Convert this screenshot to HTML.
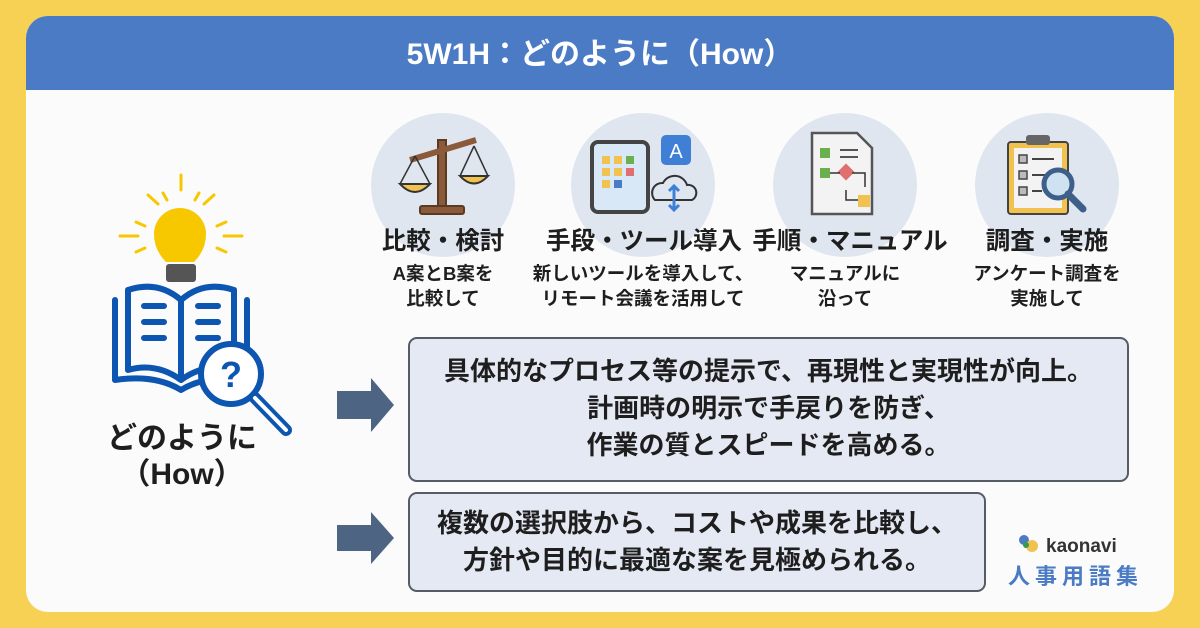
<!DOCTYPE html>
<html><head><meta charset="utf-8"><style>
*{margin:0;padding:0;box-sizing:border-box}
body{width:1200px;height:628px;background:#f7d154;position:relative;overflow:hidden;font-family:"Liberation Sans","Noto Sans CJK JP",sans-serif;color:#1e1e1e}
.card{position:absolute;left:26px;top:16px;width:1148px;height:596px;background:#fbfbfc;border-radius:22px;overflow:hidden}
.hdr{position:absolute;left:0;top:0;width:100%;height:74px;background:#4a7bc4;color:#fff;font-weight:bold;font-size:30px;text-align:center;line-height:78px}
.circ{position:absolute;width:144px;height:144px;border-radius:50%;background:#dfe6f0}
.t{position:absolute;text-align:center;font-weight:bold;white-space:nowrap}
.h{font-size:24.5px}
.s{font-size:18.5px;line-height:25px}
.box{position:absolute;background:#e4e9f3;border:2px solid #555c66;border-radius:9px;text-align:center;font-weight:bold;font-size:26px}
</style></head><body>
<div class="card">
<div class="hdr">5W1H：どのように（How）</div>
</div>
<div class="circ" style="left:371px;top:113px"></div>
<div class="circ" style="left:571px;top:113px"></div>
<div class="circ" style="left:773px;top:113px"></div>
<div class="circ" style="left:975px;top:113px"></div>
<svg width="1200" height="628" style="position:absolute;left:0;top:0">
<g fill="#8a5a3a" stroke="#5a3a22" stroke-width="2">
<rect x="438" y="140" width="8" height="66"/>
<line x1="410" y1="160" x2="476" y2="140" stroke-width="6" stroke="#8a5a3a"/>
<rect x="420" y="206" width="44" height="8" rx="2"/>
</g>
<path d="M400 184 q15 16 30 0z M460 176 q14 15 28 0z" fill="#f1c24f" stroke="#333" stroke-width="2"/>
<path d="M415 156 L400 184 M415 156 L430 184 M474 146 L460 176 M474 146 L488 176" stroke="#333" stroke-width="1.5" fill="none"/>
<rect x="592" y="142" width="56" height="70" rx="6" fill="#d8e8f6" stroke="#444" stroke-width="4"/>
<g fill="#f1c24f"><rect x="602" y="156" width="8" height="8"/><rect x="614" y="156" width="8" height="8" /><rect x="602" y="168" width="8" height="8"/><rect x="614" y="168" width="8" height="8"/><rect x="602" y="180" width="8" height="8"/></g>
<rect x="626" y="156" width="8" height="8" fill="#6ab04c"/><rect x="626" y="168" width="8" height="8" fill="#e07070"/><rect x="614" y="180" width="8" height="8" fill="#4a7bc4"/>
<rect x="661" y="135" width="30" height="30" rx="5" fill="#3f7fd6"/>
<text x="676" y="158" fill="#fff" font-size="20" text-anchor="middle">A</text>
<path d="M655 200 a10 10 0 0 1 8 -17 a13 13 0 0 1 24 2 a8 8 0 0 1 5 15 z" fill="none" stroke="#333" stroke-width="2"/>
<path d="M674 186 v24 M669 191 l5 -5 l5 5 M669 205 l5 5 l5 -5" stroke="#3f7fd6" stroke-width="3" fill="none"/>
<path d="M812 133 h45 l15 15 v66 h-60z" fill="#f3f3f3" stroke="#555" stroke-width="2.5"/>
<rect x="820" y="148" width="10" height="10" fill="#6ab04c"/><path d="M840 150h18 M840 157h18" stroke="#555" stroke-width="2"/>
<rect x="820" y="168" width="10" height="10" fill="#6ab04c"/><rect x="840" y="166" width="12" height="12" fill="#e07070" transform="rotate(45 846 172)"/>
<rect x="858" y="195" width="12" height="12" fill="#f1c24f"/>
<path d="M830 173h10 M852 173h13v14 M858 200h-12v-10" stroke="#333" stroke-width="1.5" fill="none"/>
<rect x="1008" y="142" width="60" height="72" rx="3" fill="#f1c24f" stroke="#444" stroke-width="2"/>
<rect x="1014" y="148" width="48" height="60" fill="#f3f3f3"/>
<rect x="1026" y="135" width="24" height="10" rx="3" fill="#666"/>
<g fill="#bbb" stroke="#444" stroke-width="1.5"><rect x="1019" y="155" width="8" height="8"/><rect x="1019" y="171" width="8" height="8"/><rect x="1019" y="187" width="8" height="8"/></g>
<path d="M1032 159h22 M1032 175h14 M1032 191h10" stroke="#444" stroke-width="2"/>
<circle cx="1058" cy="184" r="14" fill="#cfe2f2" stroke="#3e5f8a" stroke-width="5"/>
<line x1="1068" y1="194" x2="1083" y2="209" stroke="#3e5f8a" stroke-width="7" stroke-linecap="round"/>
<g stroke="#f7c800" stroke-width="3" stroke-linecap="round">
<line x1="181" y1="175" x2="181" y2="190"/><line x1="148" y1="195" x2="158" y2="204"/><line x1="214" y1="195" x2="204" y2="204"/>
<line x1="120" y1="236" x2="138" y2="236"/><line x1="224" y1="236" x2="242" y2="236"/><line x1="136" y1="222" x2="145" y2="226"/><line x1="226" y1="222" x2="217" y2="226"/>
<line x1="163" y1="193" x2="167" y2="200"/><line x1="199" y1="193" x2="195" y2="200"/><line x1="136" y1="252" x2="145" y2="248"/><line x1="226" y1="252" x2="217" y2="248"/>
</g>
<path d="M166 262 q-12 -12 -12 -28 a26 26 0 0 1 52 0 q0 16 -12 28z" fill="#f7c800"/>
<rect x="166" y="264" width="30" height="18" rx="3" fill="#555"/>
<g fill="none" stroke="#0c55b0" stroke-width="6" stroke-linejoin="round" stroke-linecap="round">
<path d="M115 300 v80 q40 -6 66 10 q26 -16 66 -10 v-80"/>
<path d="M128 290 q30 -10 53 10 v80 q-25 -18 -53 -10z"/>
<path d="M234 290 q-30 -10 -53 10 v80 q25 -18 53 -10z"/>
<path d="M144 306h20 M144 322h20 M144 338h20 M198 306h20 M198 322h20 M198 338h20"/>
</g>
<circle cx="231" cy="374" r="30" fill="#fff" stroke="#0c55b0" stroke-width="6"/>
<text x="231" y="387" text-anchor="middle" font-size="36" font-weight="bold" fill="#0c55b0" font-family="Liberation Sans">?</text>
<line x1="255" y1="398" x2="286" y2="430" stroke="#0c55b0" stroke-width="12" stroke-linecap="round"/>
<line x1="255" y1="398" x2="286" y2="430" stroke="#fff" stroke-width="4" stroke-linecap="round"/>
<path d="M337 391h34v-13l23 27-23 27v-13h-34z" fill="#4d6483"/>
<path d="M337 525h34v-13l23 26-23 26v-13h-34z" fill="#4d6483"/>
<circle cx="1024" cy="540" r="5" fill="#4a7bc4"/><circle cx="1032" cy="546" r="6" fill="#f1c24f"/><circle cx="1026" cy="545" r="3" fill="#3a9a4a"/>
<text x="1046" y="552" font-size="19" font-weight="bold" fill="#333" font-family="Liberation Sans">kaonavi</text>
<text x="1008" y="584" font-size="22" font-weight="bold" fill="#4a7bc4" letter-spacing="5" font-family="Noto Sans CJK JP">人事用語集</text>
</svg>
<div class="t" style="top:421px;font-size:30px;line-height:36px;left:70px;width:224px">どのように<br>（How）</div>
<div class="t h" style="left:343px;top:222px;width:200px">比較・検討</div>
<div class="t s" style="left:343px;top:261px;width:200px">A案とB案を<br>比較して</div>
<div class="t h" style="left:544px;top:222px;width:200px">手段・ツール導入</div>
<div class="t s" style="left:513px;top:261px;width:260px">新しいツールを導入して、<br>リモート会議を活用して</div>
<div class="t h" style="left:750px;top:222px;width:200px">手順・マニュアル</div>
<div class="t s" style="left:745px;top:261px;width:200px">マニュアルに<br>沿って</div>
<div class="t h" style="left:947px;top:222px;width:200px">調査・実施</div>
<div class="t s" style="left:947px;top:261px;width:200px">アンケート調査を<br>実施して</div>
<div class="box" style="left:408px;top:337px;width:721px;height:145px;padding-top:14px;line-height:37px">具体的なプロセス等の提示で、再現性と実現性が向上。<br>計画時の明示で手戻りを防ぎ、<br>作業の質とスピードを高める。</div>
<div class="box" style="left:408px;top:492px;width:578px;height:100px;padding-top:11px;line-height:37px">複数の選択肢から、コストや成果を比較し、<br>方針や目的に最適な案を見極められる。</div>
</body></html>
